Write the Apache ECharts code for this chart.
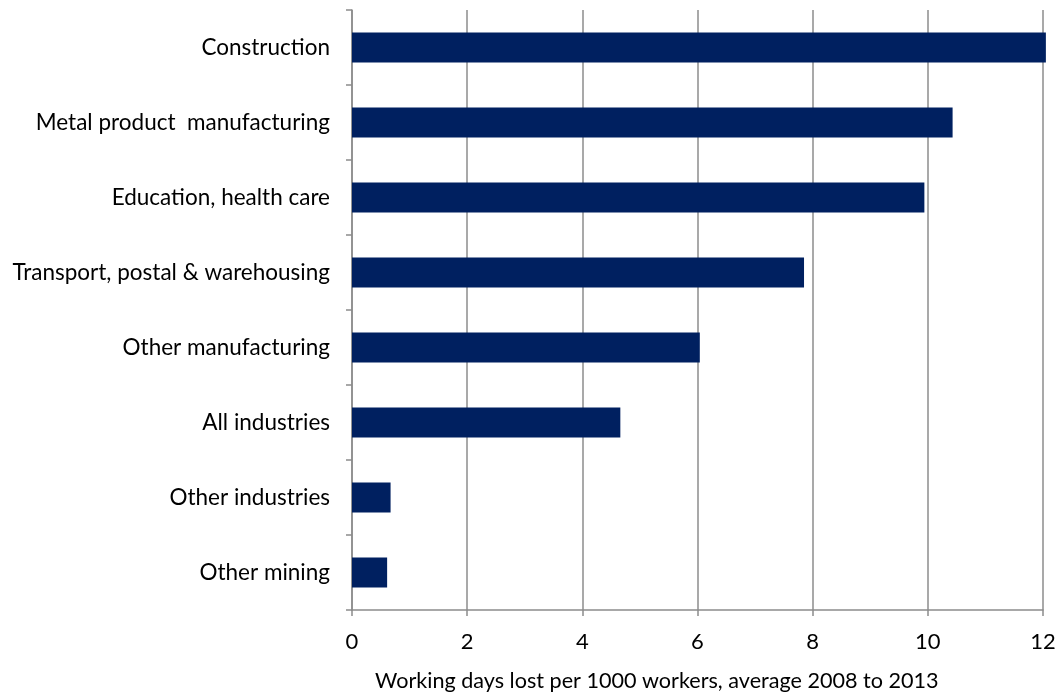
<!DOCTYPE html>
<html><head><meta charset="utf-8">
<script src="https://cdn.jsdelivr.net/npm/echarts@6/dist/echarts.min.js"></script>
<style>html,body{margin:0;padding:0;background:#fff}#c{width:1063px;height:697px}</style>
</head><body><div id="c"></div>
<script>
const categories = ["Other mining","Other industries","All industries","Other manufacturing","Transport, postal & warehousing","Education, health care","Metal product  manufacturing","Construction"];
const values = [0.61, 0.67, 4.66, 6.04, 7.85, 9.94, 10.43, 12.05];
const xTicks = [0, 2, 4, 6, 8, 10, 12];
const axisTitle = "Working days lost per 1000 workers, average 2008 to 2013";

const font = "Lato, sans-serif";
const chart = echarts.init(document.getElementById('c'), null, {renderer:'canvas'});
chart.setOption({
  animation:false,
  grid:{left:352, right:20, top:10, bottom:87, containLabel:false},
  xAxis:{type:'value', min:xTicks[0], max:xTicks[xTicks.length-1], interval:2,
    axisLine:{show:true, lineStyle:{color:'#8c8c8c', width:1.5}},
    axisTick:{show:true, length:6, lineStyle:{color:'#8c8c8c', width:1.5}},
    splitLine:{show:true, lineStyle:{color:'#8c8c8c', width:1.5}},
    axisLabel:{color:'#000', fontFamily:font, fontSize:22, margin:21}
  },
  yAxis:{type:'category', data:categories,
    axisLine:{show:true, lineStyle:{color:'#8c8c8c', width:1.5}},
    axisTick:{show:true, length:6, lineStyle:{color:'#8c8c8c', width:1.5}},
    axisLabel:{color:'#000', fontFamily:font, fontSize:22.5, margin:22}
  },
  series:[{type:'bar', data:values, barCategoryGap:'60%', clip:false,
    itemStyle:{color:'#002060'}}],
  graphic:[{type:'text', left:375, top:670, style:{text:axisTitle, fill:'#000', font:"21.6px Lato, sans-serif"}}]
});
</script></body></html>
